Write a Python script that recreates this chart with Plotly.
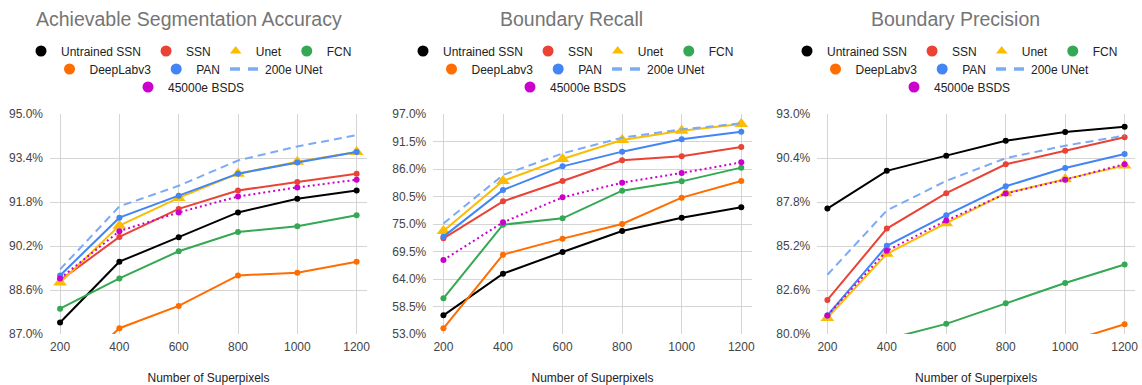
import plotly.graph_objects as go

# ---------------- data ----------------
superpixels = [200, 400, 600, 800, 1000, 1200]
series_names = ["Untrained SSN", "SSN", "Unet", "FCN", "DeepLabv3", "PAN", "200e UNet", "45000e BSDS"]

panel_titles = ["Achievable Segmentation Accuracy", "Boundary Recall", "Boundary Precision"]
x_title = "Number of Superpixels"

asa_untrained = [87.42, 89.63, 90.52, 91.42, 91.92, 92.22]
asa_ssn = [88.95, 90.53, 91.55, 92.22, 92.53, 92.83]
asa_unet = [88.87, 90.94, 91.95, 92.83, 93.26, 93.62]
asa_fcn = [87.92, 89.02, 90.01, 90.71, 90.92, 91.32]
asa_deeplab = [85.20, 87.21, 88.02, 89.13, 89.23, 89.63]
asa_pan = [89.13, 91.23, 92.03, 92.83, 93.24, 93.62]
asa_200e = [89.35, 91.64, 92.39, 93.31, 93.82, 94.23]
asa_bsds = [89.02, 90.74, 91.42, 92.00, 92.33, 92.61]

br_untrained = [56.73, 65.07, 69.40, 73.60, 76.27, 78.33]
br_ssn = [72.13, 79.53, 83.60, 87.73, 88.53, 90.40]
br_unet = [73.60, 83.60, 88.00, 91.80, 93.67, 95.00]
br_fcn = [60.13, 74.87, 76.13, 81.67, 83.53, 86.27]
br_deeplab = [54.13, 68.87, 72.07, 75.00, 80.27, 83.60]
br_pan = [72.47, 81.80, 86.53, 89.47, 91.93, 93.47]
br_200e = [75.10, 84.80, 89.13, 92.27, 93.93, 95.13]
br_bsds = [67.80, 75.33, 80.33, 83.27, 85.20, 87.33]

bp_untrained = [87.41, 89.64, 90.54, 91.42, 91.94, 92.25]
bp_ssn = [82.01, 86.23, 88.32, 90.03, 90.83, 91.63]
bp_unet = [80.95, 84.74, 86.55, 88.32, 89.15, 89.95]
bp_fcn = [78.60, 79.69, 80.60, 81.81, 83.01, 84.11]
bp_deeplab = [76.50, 77.40, 78.30, 78.90, 79.49, 80.58]
bp_pan = [81.10, 85.21, 87.02, 88.73, 89.81, 90.64]
bp_200e = [83.50, 87.30, 89.05, 90.39, 91.13, 91.72]
bp_bsds = [81.10, 84.92, 86.70, 88.30, 89.12, 90.03]

asa_ticks = [87.0, 88.6, 90.2, 91.8, 93.4, 95.0]
br_ticks = [53.0, 58.5, 64.0, 69.5, 75.0, 80.5, 86.0, 91.5, 97.0]
bp_ticks = [80.0, 82.6, 85.2, 87.8, 90.4, 93.0]

panels = [
    [asa_untrained, asa_ssn, asa_unet, asa_fcn, asa_deeplab, asa_pan, asa_200e, asa_bsds],
    [br_untrained, br_ssn, br_unet, br_fcn, br_deeplab, br_pan, br_200e, br_bsds],
    [bp_untrained, bp_ssn, bp_unet, bp_fcn, bp_deeplab, bp_pan, bp_200e, bp_bsds],
]
panel_ticks = [asa_ticks, br_ticks, bp_ticks]

# ---------------- styles ----------------
colors = ["#000000", "#ea4335", "#fbbc04", "#34a853", "#ff6d01", "#4285f4", "#7baaf7", "#cc00cc"]
legend_rows = [0, 0, 0, 0, 1, 1, 1, 2]

W, H = 1142, 385
FONT = "Arial, Liberation Sans, sans-serif"
x_domains = [(50, 367), (433.3, 751.7), (817.3, 1135)]
chart_centers = [189, 571, 955]
y_top, y_bot = 114, 334
legend_row_y = [51, 69, 87]

fig = go.Figure()

for p in range(3):
    xa = "x" if p == 0 else f"x{p+1}"
    ya = "y" if p == 0 else f"y{p+1}"
    for i, name in enumerate(series_names):
        c = colors[i]
        if name == "200e UNet":
            tr = dict(mode="lines", line=dict(color=c, width=2, dash="8px,5px"))
        elif name == "45000e BSDS":
            tr = dict(mode="lines+markers", line=dict(color=c, width=2, dash="2px,3px"),
                      marker=dict(color=c, size=6))
        elif name == "Unet":
            tr = dict(mode="lines+markers", line=dict(color=c, width=2),
                      marker=dict(color=c, size=12, symbol="triangle-up"))
        else:
            tr = dict(mode="lines+markers", line=dict(color=c, width=2),
                      marker=dict(color=c, size=6))
        fig.add_trace(go.Scatter(x=superpixels, y=panels[p][i], name=name, xaxis=xa, yaxis=ya,
                                 showlegend=False, hoverinfo="x+y+name", **tr))
    # legend-only entries
    for i, name in enumerate(series_names):
        c = colors[i]
        lg_idx = p * 3 + legend_rows[i] + 1
        lg = "legend" if lg_idx == 1 else f"legend{lg_idx}"
        if name == "200e UNet":
            tr = dict(mode="lines", line=dict(color=c, width=3.5, dash="10px,8px"))
        elif name == "Unet":
            tr = dict(mode="markers", marker=dict(color=c, size=10, symbol="triangle-up"))
        else:
            tr = dict(mode="markers", marker=dict(color=c, size=11))
        fig.add_trace(go.Scatter(x=[None], y=[None], name=name, xaxis=xa, yaxis=ya,
                                 showlegend=True, legend=lg, hoverinfo="skip", **tr))

layout = dict(
    width=W, height=H,
    margin=dict(l=0, r=0, t=0, b=0),
    paper_bgcolor="white", plot_bgcolor="white",
    font=dict(family=FONT, size=12, color="#222222"),
    showlegend=True,
    annotations=[],
)

for p in range(3):
    sfx = "" if p == 0 else str(p + 1)
    x0, x1 = x_domains[p]
    ticks = panel_ticks[p]
    layout["xaxis" + sfx] = dict(
        domain=[x0 / W, x1 / W], anchor="y" + sfx, range=[166, 1235],
        tickvals=superpixels, ticktext=[str(v) for v in superpixels],
        showgrid=True, gridcolor="#d5d5d5", gridwidth=1, zeroline=False, showline=False,
        ticks="", tickfont=dict(size=12, color="#444444", family=FONT),
        ticklabelstandoff=4,
        title=dict(text=x_title, font=dict(size=12, color="#222222", family=FONT), standoff=20),
        automargin=False, fixedrange=True,
    )
    layout["yaxis" + sfx] = dict(
        domain=[1 - y_bot / H, 1 - y_top / H], anchor="x" + sfx,
        range=[ticks[0], ticks[-1]],
        tickvals=ticks, ticktext=[f"{t:.1f}%" for t in ticks],
        showgrid=True, gridcolor="#d5d5d5", gridwidth=1, zeroline=False, showline=False,
        ticks="", tickfont=dict(size=12, color="#444444", family=FONT),
        ticklabelstandoff=6,
        automargin=False, fixedrange=True,
    )
    layout["annotations"].append(dict(
        text=panel_titles[p], x=chart_centers[p] / W, y=1 - 19 / H, xref="paper", yref="paper",
        xanchor="center", yanchor="middle", showarrow=False,
        font=dict(size=19.5, color="#757575", family=FONT),
    ))
    for r in range(3):
        lg_idx = p * 3 + r + 1
        lg = "legend" if lg_idx == 1 else f"legend{lg_idx}"
        layout[lg] = dict(
            orientation="h", x=chart_centers[p] / W, y=1 - legend_row_y[r] / H,
            xanchor="center", yanchor="middle", bgcolor="rgba(0,0,0,0)",
            font=dict(size=12, color="#222222", family=FONT),
            itemsizing="trace", tracegroupgap=0, borderwidth=0,
        )

fig.update_layout(**layout)
fig.write_html("out.html")
